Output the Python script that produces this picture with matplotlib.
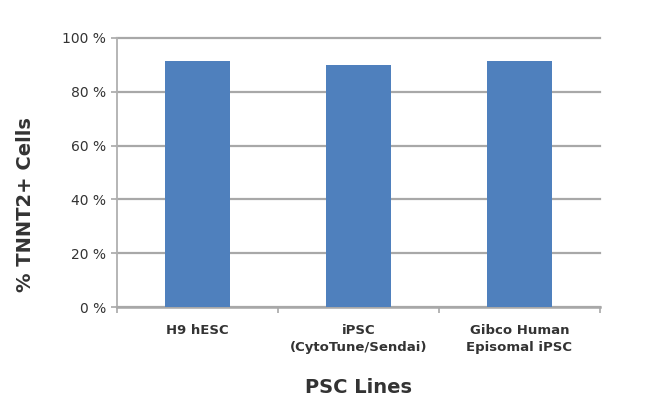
import matplotlib
matplotlib.use('Agg')
import matplotlib.pyplot as plt
import numpy as np

# Chart data
categories = ['H9 hESC', 'iPSC\n(CytoTune/Sendai)', 'Gibco Human\nEpisomal iPSC']
values = [91.4, 90.1, 91.4]
yticks = [0, 20, 40, 60, 80, 100]
ytick_labels = ['0 %', '20 %', '40 %', '60 %', '80 %', '100 %']

plt.rcParams['font.family'] = ['DejaVu Sans']

fig = plt.figure(figsize=(6.5, 4.04), dpi=100)
ax = fig.add_axes([0.18, 0.24, 0.743, 0.666])

x = np.arange(len(categories))
ax.bar(x, values, width=0.4, color='#4f80bd', zorder=3)

ax.set_xlim(-0.5, len(categories) - 0.5)
ax.set_ylim(0, 100)
ax.set_yticks(yticks)
ax.set_yticklabels(ytick_labels, fontsize=10, color='#333333')
ax.yaxis.grid(True, color='#a8a8a8', linewidth=1.6, zorder=0)
# keep the top gridline at full thickness
for gl in ax.get_ygridlines():
    gl.set_clip_on(False)

# category labels centered, tick marks between categories
ax.set_xticks(x)
ax.set_xticklabels(categories, fontsize=9.5, fontweight='bold', color='#333333', linespacing=1.45)
ax.tick_params(axis='x', length=0, pad=12)
ax.set_xticks(np.arange(len(categories) + 1) - 0.5, minor=True)
ax.tick_params(axis='x', which='minor', length=4, color='#a8a8a8', width=1.2)
ax.tick_params(axis='y', length=4, color='#a8a8a8', width=1.2, pad=4)

for side in ['top', 'right']:
    ax.spines[side].set_visible(False)
ax.spines['left'].set_color('#b0b0b0')
ax.spines['left'].set_linewidth(1.3)
ax.spines['bottom'].set_color('#a8a8a8')
ax.spines['bottom'].set_linewidth(1.8)

fig.text(0.04, 0.493, '% TNNT2+ Cells', rotation=90, ha='center', va='center',
         fontsize=14, fontweight='bold', color='#333333')
fig.text(0.552, 0.027, 'PSC Lines', ha='center', va='baseline',
         fontsize=14, fontweight='bold', color='#333333')

fig.savefig('out.png', dpi=100)
